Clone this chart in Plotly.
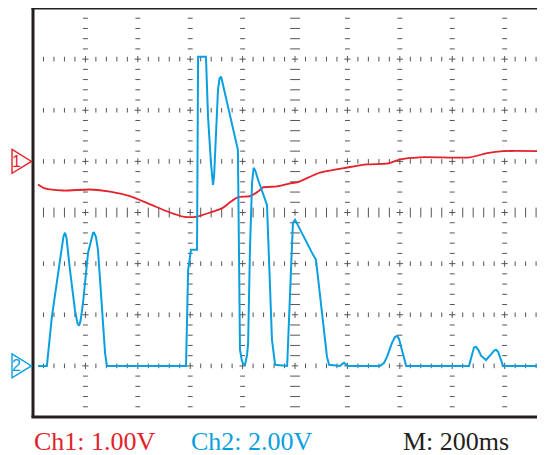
import plotly.graph_objects as go

# ---- data (time in ms, voltage in V) ----
ch2_t = [19, 53, 72, 92, 111, 116, 122, 128, 141, 160, 170, 176, 182, 191, 210, 222, 229, 233,
         240, 248, 263, 275, 282, 584, 592, 603, 626, 630, 660, 668, 679, 684, 687, 691, 698,
         706, 712, 718, 782, 786, 790, 797, 802, 809, 817, 821, 828, 836, 842, 848, 859, 893,
         897, 912, 924, 970, 985, 992, 1000, 1038, 1065, 1080, 1103, 1122, 1130, 1172, 1181,
         1187, 1194, 1202, 1324, 1340, 1351, 1370, 1381, 1389, 1397, 1408, 1424, 1664, 1672,
         1676, 1683, 1691, 1700, 1710, 1729, 1748, 1760, 1767, 1775, 1782, 1794, 1954]
ch2_v = [0, 0, 1.92, 3.29, 4.66, 5.05, 5.21, 5.0, 3.76, 2.19, 1.65, 1.57, 1.8, 2.47, 4.42, 5.0,
         5.2, 5.21, 5.05, 4.54, 2.47, 0.51, 0, 0, 3.76, 4.54, 4.54, 12.09, 12.09, 9.75, 7.95,
         7.3, 7.08, 7.4, 9.12, 10.8, 11.25, 11.31, 8.45, 4.0, 0.63, 0.2, 0.08, 0.04, 0.43,
         0.9, 4.54, 7.16, 7.75, 7.65, 7.28, 6.3, 5.32, 1.02, 0.04, 0, 3.87, 5.6, 5.72, 4.93,
         4.42, 4.15, 2.19, 0.35, 0.04, 0, 0.08, 0.12, 0.06, 0, 0, 0.12, 0.35, 0.9, 1.12, 1.17,
         1.05, 0.63, 0, 0, 0.3, 0.55, 0.72, 0.74, 0.62, 0.4, 0.23, 0.45, 0.6, 0.63, 0.55,
         0.35, 0, 0]

ch1_t = [19, 46, 115, 218, 294, 370, 447, 523, 573, 626, 676, 721, 752, 783, 828, 859, 878,
         931, 981, 1008, 1095, 1199, 1275, 1355, 1401, 1477, 1668, 1733, 1794, 1954]
ch1_v = [-0.45, -0.53, -0.57, -0.55, -0.59, -0.68, -0.84, -1.00, -1.08, -1.08, -1.00, -0.92,
         -0.80, -0.70, -0.68, -0.59, -0.51, -0.49, -0.43, -0.41, -0.22, -0.12, -0.06, -0.04,
         0.04, 0.08, 0.08, 0.16, 0.20, 0.20]

labels = ["Ch1: 1.00V", "Ch2: 2.00V", "M: 200ms"]

RED = "#e3222b"
BLUE = "#0aa0e0"
DARK = "#231f20"
GRID = "#555555"

T_DIV = 200          # ms per division
T_MAX = 1954         # visible right edge

fig = go.Figure()

# ---- graticule ----
cols = [T_DIV * i for i in range(1, 10)]
rows = list(range(-4, 3))          # Ch1 volts, centre row = -1
centre_col, centre_row = 1000, -1

sub_t = [40 * i for i in range(1, 49) if (40 * i) % T_DIV != 0 and 40 * i < T_MAX]
sub_v = [round(-4.8 + 0.2 * k, 2) for k in range(39)]
sub_v = [v for v in sub_v if abs(v - round(v)) > 1e-6]

def add_marks(xs, ys, symbol, size, width=1.0):
    fig.add_trace(go.Scatter(x=xs, y=ys, mode="markers", hoverinfo="skip", showlegend=False,
                             marker=dict(symbol=symbol, size=size,
                                         line=dict(color=GRID, width=width))))

# row ticks
for r in rows:
    sz = 7 if r == centre_row else 3.3
    add_marks(sub_t, [r] * len(sub_t), "line-ns", sz)
# column dashes
for c in cols:
    sz = 7 if c == centre_col else 3.5
    add_marks([c] * len(sub_v), sub_v, "line-ew", sz)
# crosses
cx, cy = [], []
for c in cols:
    for r in rows:
        cx.append(c)
        cy.append(r)
add_marks(cx, cy, "cross-thin", 4.5)

# ---- traces ----
fig.add_trace(go.Scatter(x=ch1_t, y=ch1_v, mode="lines", yaxis="y", showlegend=False,
                         line=dict(color=RED, width=1.8, shape="spline", smoothing=0.6)))
fig.add_trace(go.Scatter(x=ch2_t, y=ch2_v, mode="lines", yaxis="y2", showlegend=False,
                         line=dict(color=BLUE, width=2)))

# ---- frame ----
shapes = [
    dict(type="line", xref="paper", yref="paper", x0=0, x1=0, y0=0, y1=1,
         line=dict(color=DARK, width=3)),
    dict(type="line", xref="paper", yref="paper", x0=-0.003, x1=1.05, y0=1, y1=1,
         line=dict(color=DARK, width=3)),
    dict(type="line", xref="paper", yref="paper", x0=-0.003, x1=1.05, y0=0, y1=0,
         line=dict(color=DARK, width=3)),
]
# channel ground markers
for yc, col in [(0.625, RED), (0.125, BLUE)]:
    h = 0.0293
    shapes.append(dict(type="path", xref="paper", yref="paper",
                       path=f"M -0.041 {yc + h} L -0.003 {yc} L -0.041 {yc - h} Z",
                       line=dict(color=col, width=1.4), fillcolor="rgba(0,0,0,0)"))

annotations = [
    dict(text="1", x=-0.032, y=0.625, xref="paper", yref="paper", showarrow=False,
         xanchor="center", yanchor="middle", borderpad=0,
         font=dict(family="Liberation Sans", size=16, color=RED)),
    dict(text="2", x=-0.032, y=0.125, xref="paper", yref="paper", showarrow=False,
         xanchor="center", yanchor="middle", borderpad=0,
         font=dict(family="Liberation Sans", size=16, color=BLUE)),
]
for txt, xp, col in zip(labels, [-0.002, 0.305, 0.718], [RED, BLUE, DARK]):
    annotations.append(dict(text=txt, x=xp, y=-0.06, xref="paper", yref="paper",
                            xanchor="left", yanchor="middle", showarrow=False,
                            font=dict(family="Liberation Serif", size=26, color=col)))

ax_common = dict(showgrid=False, zeroline=False, showticklabels=False, ticks="",
                 showline=False, fixedrange=True)
# page body has an 8px margin, so the figure is sized/placed to compensate
fig.update_layout(
    width=537, height=447,
    margin=dict(l=25, r=0, t=0, b=38),
    paper_bgcolor="white", plot_bgcolor="white",
    xaxis=dict(range=[0, T_MAX], **ax_common),
    yaxis=dict(range=[-5, 3], **ax_common),
    yaxis2=dict(range=[-2, 14], overlaying="y", **ax_common),
    shapes=shapes, annotations=annotations, showlegend=False,
)

fig.write_html("out.html")
